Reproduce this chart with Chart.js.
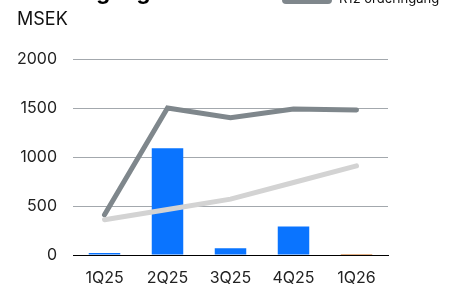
<!DOCTYPE html>
<html>
<head>
<meta charset="utf-8">
<script src="https://cdn.jsdelivr.net/npm/chart.js@4"></script>
<style>
  html, body { margin: 0; padding: 0; background: #fff; overflow: hidden; }
  #wrap { position: relative; width: 471px; height: 284px; overflow: hidden; font-family: Inter, "Liberation Sans", sans-serif; }
  canvas { position: absolute; left: 0; top: 0; }
  .title { position: absolute; left: 15px; top: -20px; font-size: 22px; line-height: 22px; font-weight: 700; color: #000; white-space: nowrap; }
  .unit { position: absolute; left: 17px; top: 9px; font-size: 18px; line-height: 20px; color: #111; }
  .leg { position: absolute; left: 282px; top: -6px; width: 50px; height: 10px; border-radius: 4px; background: #7f878c; }
  .legtxt { position: absolute; left: 339px; top: -10px; font-size: 13px; line-height: 16px; color: #111; white-space: nowrap; }
</style>
</head>
<body>
<div id="wrap">
  <canvas id="c" width="471" height="284"></canvas>
  <div class="title">Orderingång</div>
  <div class="unit">MSEK</div>
  <div class="leg"></div>
  <div class="legtxt">R12 orderingång</div>
</div>
<script>
const categories = ["1Q25", "2Q25", "3Q25", "4Q25", "1Q26"];
const orderingang = [20, 1090, 70, 290, 10];
const r12Orderingang = [410, 1500, 1400, 1490, 1480];
const r12Other = [360, 465, 570, 740, 910];
const yTicks = [0, 500, 1000, 1500, 2000];
const barColors = ["#0a74ff", "#0a74ff", "#0a74ff", "#0a74ff", "#c8620c"];

const FONT = "Inter, 'Liberation Sans', sans-serif";

new Chart(document.getElementById("c"), {
  data: {
    labels: categories,
    datasets: [
      {
        type: "line",
        label: "R12",
        data: r12Other,
        borderColor: "#d3d3d3",
        borderWidth: 5,
        borderCapStyle: "round",
        pointRadius: 0,
        tension: 0,
        order: 0
      },
      {
        type: "line",
        label: "R12 orderingång",
        data: r12Orderingang,
        borderColor: "#7f878c",
        borderWidth: 5,
        borderCapStyle: "round",
        borderJoinStyle: "miter",
        pointRadius: 0,
        tension: 0,
        order: 1
      },
      {
        type: "bar",
        label: "Orderingång",
        data: orderingang,
        backgroundColor: barColors,
        borderWidth: 0,
        categoryPercentage: 1,
        barPercentage: 0.5,
        order: 2
      }
    ]
  },
  options: {
    responsive: false,
    animation: false,
    devicePixelRatio: 1,
    layout: { padding: { top: 59, right: 83, bottom: 0, left: 0 } },
    plugins: { legend: { display: false }, title: { display: false }, tooltip: { enabled: false } },
    scales: {
      x: {
        grid: { display: false, drawTicks: false },
        border: { display: true, color: "#000", width: 1 },
        ticks: { color: "#222", font: { family: FONT, size: 16 }, padding: 14, maxRotation: 0 },
        afterFit: (s) => { s.height = 29; }
      },
      y: {
        min: 0,
        max: 2000,
        afterBuildTicks: (s) => { s.ticks = yTicks.map(v => ({ value: v })); },
        grid: {
          drawTicks: false,
          color: (ctx) => ctx.tick && ctx.tick.value === 0 ? "#000" : "#a3a8ad",
          lineWidth: 1
        },
        border: { display: false },
        ticks: { color: "#222", font: { family: FONT, size: 16 }, padding: 16, callback: (v) => String(v) },
        afterFit: (s) => { s.width = 73; }
      }
    }
  }
});
</script>
</body>
</html>
